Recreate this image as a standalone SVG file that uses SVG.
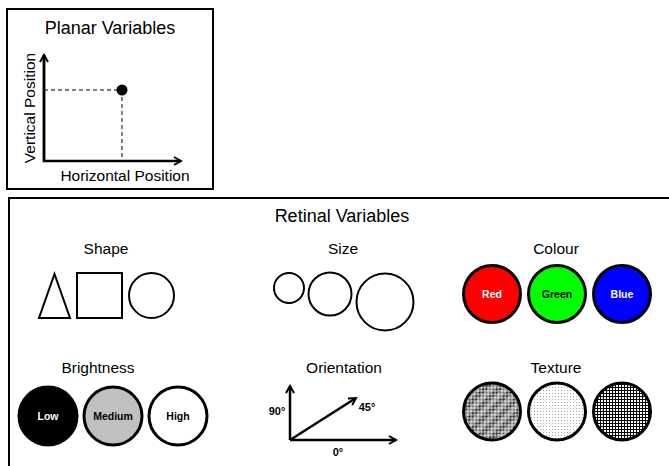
<svg xmlns="http://www.w3.org/2000/svg" width="669" height="466" viewBox="0 0 669 466">
<defs>
<style>
.frame{fill:none;stroke:#000;stroke-width:2}
.ax{fill:none;stroke:#000;stroke-width:2.5}
.dash{fill:none;stroke:#000;stroke-width:1;stroke-dasharray:4 3}
.title{font-family:"Liberation Sans",Arial,sans-serif;font-size:18px;text-anchor:middle;fill:#000}
.lbl{font-family:"Liberation Sans",Arial,sans-serif;font-size:15.5px;text-anchor:middle;fill:#000}
.in{font-family:"Liberation Sans",Arial,sans-serif;font-size:10.5px;font-weight:bold;text-anchor:middle}
.deg{font-family:"Liberation Sans",Arial,sans-serif;font-size:11px;font-weight:bold;text-anchor:middle}
.shape{fill:#fff;stroke:#000;stroke-width:2}
.dot{stroke:#000;stroke-width:3}
</style>
<marker id="arr" viewBox="0 0 10 10" refX="8" refY="5" markerWidth="4" markerHeight="4" orient="auto" markerUnits="strokeWidth">
<polyline points="1,1 8,5 1,9" fill="none" stroke="#000" stroke-width="2"/>
</marker>
<pattern id="tex1" width="2" height="2" patternUnits="userSpaceOnUse">
<rect width="2" height="2" fill="#fff"/>
<rect width="1" height="1" fill="#000"/>
<rect x="1" y="1" width="1" height="1" fill="#000"/>
</pattern>
<pattern id="bands" width="10" height="10" patternUnits="userSpaceOnUse" patternTransform="rotate(45)">
<rect width="10" height="10" fill="url(#tex1)"/>
<rect width="5" height="10" fill="#fff" opacity="0.35"/>
</pattern>
<pattern id="tex2" width="3" height="3" patternUnits="userSpaceOnUse">
<rect width="3" height="3" fill="#fff"/>
<rect width="1" height="1" fill="#aaa"/>
</pattern>
<pattern id="tex3" width="3" height="3" patternUnits="userSpaceOnUse">
<rect width="3" height="3" fill="#fff"/>
<rect width="3" height="1" fill="#000"/>
<rect width="1" height="3" fill="#000"/>
</pattern>
</defs>
<rect width="669" height="466" fill="#fff"/>

<g id="planar">
<rect class="frame" x="7" y="9" width="206" height="180"/>
<text class="title" x="110" y="34">Planar Variables</text>
<text class="lbl" transform="translate(35,108) rotate(-90)">Vertical Position</text>
<text class="lbl" x="125" y="181">Horizontal Position</text>
<line class="dash" x1="44" y1="90" x2="122" y2="90"/>
<line class="dash" x1="122" y1="90" x2="122" y2="161"/>
<circle cx="122" cy="90" r="5.5" fill="#000"/>
</g>

<g id="connectors">
<polyline class="ax" points="44,55 44,161 181,161" marker-end="url(#arr)"/>
<line class="ax" x1="44" y1="161" x2="44" y2="55" marker-end="url(#arr)"/>
<line class="ax" x1="290" y1="440" x2="290" y2="386" marker-end="url(#arr)"/>
<line class="ax" x1="290" y1="440" x2="396" y2="440" marker-end="url(#arr)"/>
<line class="ax" x1="290" y1="440" x2="356" y2="398" marker-end="url(#arr)"/>
</g>

<g id="retinal">
<rect class="frame" x="9" y="198" width="700" height="300"/>
<text class="title" x="342" y="222">Retinal Variables</text>
</g>

<g id="shape">
<text class="lbl" x="106" y="254">Shape</text>
<polygon class="shape" points="39,318 70,318 54.5,274"/>
<rect class="shape" x="77" y="273" width="45" height="45"/>
<circle class="shape" cx="151.5" cy="295.5" r="22.5"/>
</g>

<g id="size">
<text class="lbl" x="343" y="254">Size</text>
<circle class="shape" cx="289" cy="288" r="15"/>
<circle class="shape" cx="330" cy="294" r="21.5"/>
<circle class="shape" cx="385" cy="302" r="28.5"/>
</g>

<g id="colour">
<text class="lbl" x="556" y="254">Colour</text>
<circle class="dot" cx="492" cy="294" r="28.5" fill="#ff0000"/>
<circle class="dot" cx="557" cy="294" r="28.5" fill="#00ff00"/>
<circle class="dot" cx="622" cy="294" r="28.5" fill="#0000ff"/>
<text class="in" x="492" y="298" fill="#fff">Red</text>
<text class="in" x="557" y="298" fill="#000">Green</text>
<text class="in" x="622" y="298" fill="#fff">Blue</text>
</g>

<g id="brightness">
<text class="lbl" x="98" y="373">Brightness</text>
<circle class="dot" cx="48" cy="416" r="29" fill="#000"/>
<circle class="dot" cx="113" cy="416" r="29" fill="#c0c0c0"/>
<circle class="dot" cx="178" cy="416" r="29" fill="#fff"/>
<text class="in" x="48" y="420" fill="#fff">Low</text>
<text class="in" x="113" y="420" fill="#000">Medium</text>
<text class="in" x="178" y="420" fill="#000">High</text>
</g>

<g id="orientation">
<text class="lbl" x="344" y="373">Orientation</text>
<text class="deg" x="277" y="415">90°</text>
<text class="deg" x="367" y="411">45°</text>
<text class="deg" x="338" y="456">0°</text>
</g>

<g id="texture">
<text class="lbl" x="556" y="373">Texture</text>
<circle class="dot" cx="492" cy="411.5" r="28.5" fill="url(#bands)"/>
<circle class="dot" cx="557" cy="411.5" r="28.5" fill="url(#tex2)"/>
<circle class="dot" cx="622" cy="411.5" r="28.5" fill="url(#tex3)"/>
</g>
</svg>
